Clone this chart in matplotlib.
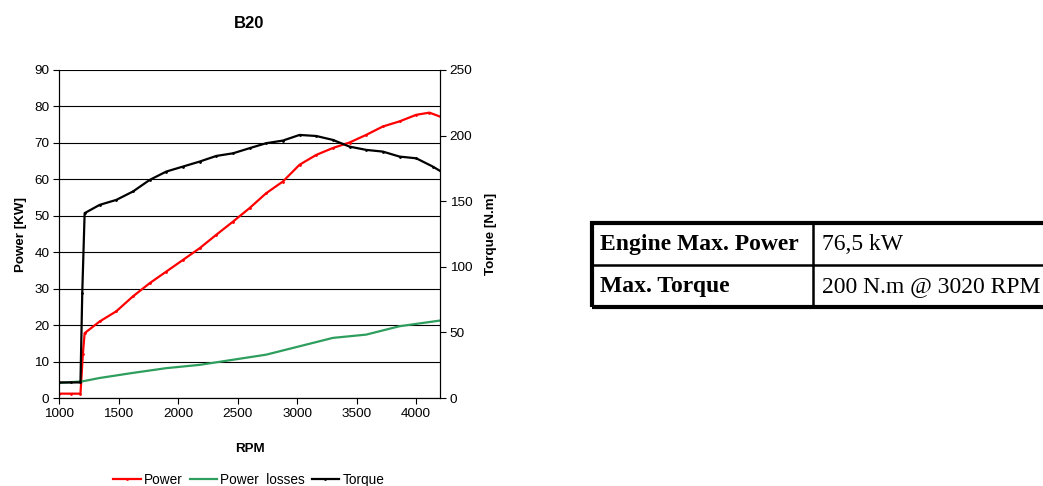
"""B20 engine curves: power, power losses and torque vs RPM, with spec table."""
import matplotlib
matplotlib.use("Agg")
import matplotlib.pyplot as plt
from matplotlib.patches import Rectangle

plt.rcParams['font.family'] = ['Liberation Sans', 'DejaVu Sans']

# Power [kW]
power_rpm = [1000, 1100, 1180, 1200, 1215, 1341, 1481, 1621, 1761, 1901, 2041, 2181,
             2321, 2461, 2600, 2740, 2880, 3020, 3160, 3300, 3440, 3580, 3720,
             3860, 4000, 4111, 4209]
power_kw = [1.2, 1.2, 1.2, 12.0, 17.8, 21.0, 23.8, 27.9, 31.5, 34.7, 37.9, 41.1,
            44.8, 48.4, 52.1, 56.2, 59.4, 64.0, 66.7, 68.6, 70.1, 72.2, 74.5,
            75.9, 77.7, 78.3, 77.1]

# Power losses [kW]
loss_rpm = [1000, 1200, 1341, 1621, 1901, 2181, 2461, 2740, 3020, 3300, 3580,
            3860, 4209]
loss_kw = [4.1, 4.6, 5.5, 6.9, 8.2, 9.1, 10.5, 11.9, 14.2, 16.5, 17.4, 19.7, 21.3]

# Torque [N.m]
torque_rpm = [1000, 1100, 1180, 1195, 1215, 1341, 1481, 1621, 1761, 1901, 2041,
              2181, 2321, 2461, 2600, 2740, 2880, 3020, 3160, 3300, 3440, 3580,
              3720, 3860, 4000, 4139, 4209]
torque_nm = [11.9, 11.9, 11.9, 80.0, 140.9, 147.2, 151.0, 157.4, 166.2, 172.6, 176.4,
             180.2, 184.5, 186.5, 190.4, 194.2, 196.2, 200.5, 199.7, 196.7, 191.6,
             189.1, 187.8, 184.0, 182.7, 176.4, 172.6]

table_rows = [["Engine Max. Power", "76,5 kW"],
              ["Max. Torque", "200 N.m @ 3020 RPM"]]

fig = plt.figure(figsize=(10.43, 4.86), dpi=100)
ax = fig.add_axes([0.0566, 0.181, 0.3653, 0.675])
ax2 = ax.twinx()

ax.set_xlim(1000, 4200)
ax.set_ylim(0, 90)
ax2.set_ylim(0, 250)
ax.set_xticks([1000, 1500, 2000, 2500, 3000, 3500, 4000])
ax.set_yticks(range(0, 91, 10))
ax2.set_yticks(range(0, 251, 50))
ax.yaxis.grid(True, color='black', linewidth=0.8)
ax.set_axisbelow(True)

l1, = ax.plot(power_rpm, power_kw, color='#ff0000', lw=1.6, marker='.', markersize=2,
              label='Power')
l2, = ax.plot(loss_rpm, loss_kw, color='#2e9e5e', lw=1.6, label='Power  losses')
l3, = ax2.plot(torque_rpm, torque_nm, color='black', lw=1.6, marker='.', markersize=2,
               label='Torque')

for a in (ax, ax2):
    a.tick_params(labelsize=9.7, direction='out', length=4, width=0.8, pad=3)
    for s in a.spines.values():
        s.set_linewidth(0.8)
ax2.spines['top'].set_visible(False)
ax.spines['top'].set_visible(False)

ax.set_xlabel('RPM', fontsize=9.6, fontweight='bold', labelpad=17)
ax.set_ylabel('Power [KW]', fontsize=9.6, fontweight='bold', labelpad=5)
ax2.set_ylabel('Torque [N.m]', fontsize=9.6, fontweight='bold', labelpad=9)
fig.text(0.2385, 0.952, 'B20', fontsize=12, fontweight='bold', ha='center', va='center')

fig.legend(handles=[l1, l2, l3], loc='center', bbox_to_anchor=(0.2385, 0.013),
           ncol=3, frameon=False, fontsize=9.8, handlelength=2.0, columnspacing=0.5,
           handletextpad=0.25)

# spec table on the right
tax = fig.add_axes([0.5676, 0.368, 0.45, 0.173])
tax.set_xlim(0, 1)
tax.set_ylim(0, 2)
tax.axis('off')
split = 221 / 469
for i, (name, value) in enumerate(table_rows):
    y = 1.48 - i
    tax.text(0.018, y, name, fontsize=17, fontweight='bold', va='center', ha='left',
             family='Liberation Serif')
    tax.text(split + 0.018, y, value, fontsize=17, va='center', ha='left',
             family='Liberation Serif')
tax.plot([0, 1], [1, 1], color='black', lw=1.8, clip_on=False)
tax.plot([split, split], [0, 2], color='black', lw=1.8, clip_on=False)
tax.add_patch(Rectangle((0, 0), 1, 2, fill=False, lw=3, edgecolor='black', clip_on=False))

fig.savefig('out.png', dpi=100)
